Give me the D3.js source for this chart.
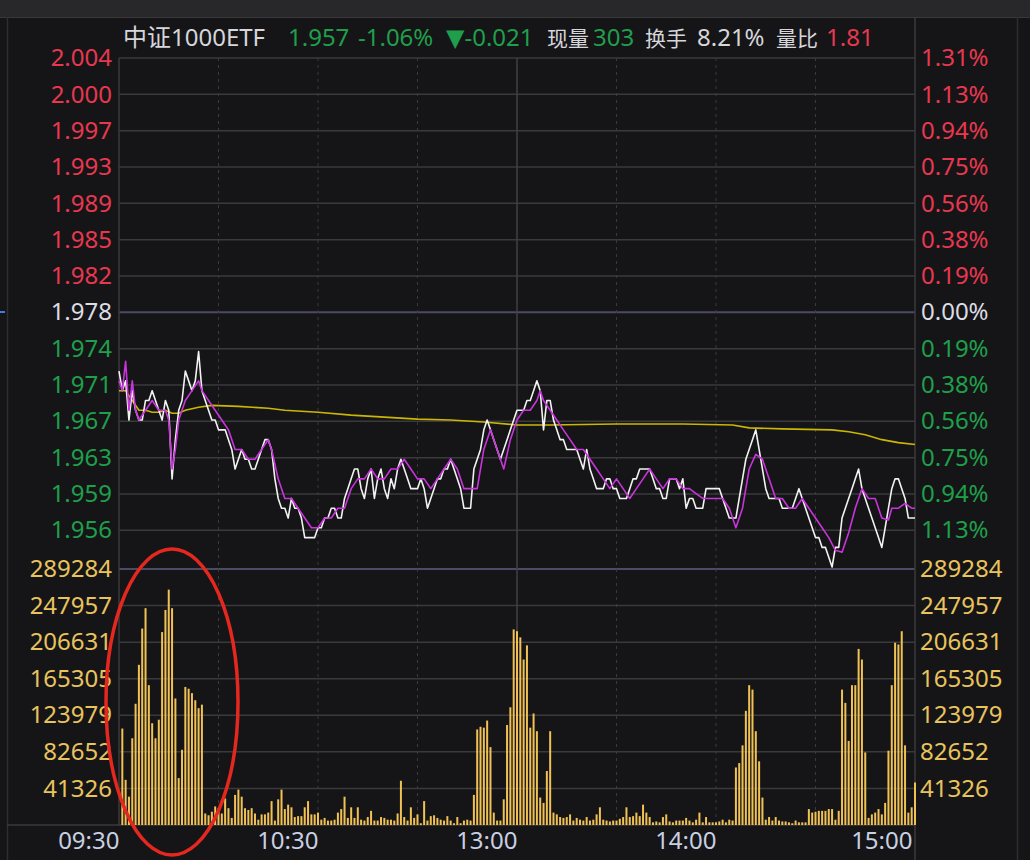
<!DOCTYPE html>
<html>
<head>
<meta charset="utf-8">
<script src="https://cdn.jsdelivr.net/npm/d3@7"></script>
<style>
  body { margin: 0; background: #151517; }
  svg { display: block; }
  text { font-family: "Noto Sans", "DejaVu Sans", "Noto Sans CJK SC", sans-serif; font-size: 24px; }
</style>
</head>
<body>
<svg width="1030" height="860"></svg>
<script>
// ---- data ----
var preClose = 1.978;
var volMax = 289284;

var headerTexts = ['中证1000ETF', '1.957', '-1.06%', '▼-0.021', '现量', '303', '换手', '8.21%', '量比', '1.81'];
var headerKinds = ['name', 'down', 'down', 'down', 'name', 'down', 'name', 'name', 'name', 'up'];

// top to bottom
var priceLabels = ['2.004', '2.000', '1.997', '1.993', '1.989', '1.985', '1.982', '1.978',
  '1.974', '1.971', '1.967', '1.963', '1.959', '1.956'];
var pctLabels = ['1.31%', '1.13%', '0.94%', '0.75%', '0.56%', '0.38%', '0.19%', '0.00%',
  '0.19%', '0.38%', '0.56%', '0.75%', '0.94%', '1.13%'];
// bottom to top
var volLabels = ['41326', '82652', '123979', '165305', '206631', '247957', '289284'];

var timeLabels = ['09:30', '10:30', '13:00', '14:00', '15:00'];
var timeTicks = [0, 60, 120, 180, 240];

// last price, one value per minute (0 = 09:30, 240 = 15:00)
var price = [
  1.972, 1.970, 1.971, 1.967, 1.970, 1.968, 1.967, 1.967, 1.969, 1.969,
  1.970, 1.969, 1.968, 1.967, 1.969, 1.968, 1.961, 1.965, 1.968, 1.969,
  1.972, 1.971, 1.970, 1.971, 1.974, 1.970, 1.969, 1.968, 1.967, 1.967,
  1.966, 1.966, 1.966, 1.965, 1.964, 1.962, 1.963, 1.964, 1.963, 1.963,
  1.962, 1.962, 1.963, 1.964, 1.965, 1.965, 1.964, 1.961, 1.959, 1.958,
  1.958, 1.957, 1.959, 1.958, 1.958, 1.957, 1.955, 1.955, 1.955, 1.955,
  1.956, 1.956, 1.957, 1.957, 1.958, 1.958, 1.957, 1.957, 1.959, 1.960,
  1.961, 1.962, 1.962, 1.960, 1.959, 1.961, 1.962, 1.959, 1.961, 1.962,
  1.960, 1.959, 1.961, 1.960, 1.962, 1.963, 1.962, 1.961, 1.960, 1.960,
  1.960, 1.961, 1.960, 1.958, 1.959, 1.960, 1.961, 1.961, 1.962, 1.962,
  1.963, 1.962, 1.961, 1.960, 1.958, 1.958, 1.958, 1.962, 1.963, 1.964,
  1.966, 1.967, 1.966, 1.965, 1.964, 1.963, 1.964, 1.965, 1.966, 1.967,
  1.968, 1.968, 1.968, 1.969, 1.969, 1.970, 1.971, 1.970, 1.966, 1.969,
  1.969, 1.967, 1.966, 1.965, 1.965, 1.964, 1.964, 1.964, 1.964, 1.963,
  1.962, 1.964, 1.962, 1.961, 1.960, 1.960, 1.960, 1.961, 1.961, 1.960,
  1.960, 1.959, 1.959, 1.959, 1.960, 1.961, 1.961, 1.962, 1.962, 1.962,
  1.962, 1.961, 1.960, 1.960, 1.959, 1.959, 1.961, 1.961, 1.961, 1.960,
  1.961, 1.958, 1.959, 1.959, 1.958, 1.958, 1.958, 1.960, 1.960, 1.960,
  1.960, 1.960, 1.959, 1.958, 1.957, 1.957, 1.957, 1.959, 1.961, 1.963,
  1.964, 1.965, 1.966, 1.964, 1.962, 1.960, 1.959, 1.959, 1.959, 1.959,
  1.958, 1.958, 1.958, 1.958, 1.959, 1.960, 1.959, 1.958, 1.957, 1.956,
  1.955, 1.955, 1.954, 1.954, 1.953, 1.952, 1.954, 1.954, 1.957, 1.958,
  1.959, 1.960, 1.961, 1.962, 1.960, 1.959, 1.958, 1.957, 1.956, 1.955,
  1.954, 1.956, 1.958, 1.960, 1.961, 1.961, 1.960, 1.959, 1.957, 1.957,
  1.957
];

// magenta line, [minute, value]
var iopv = [
  [0, 1.971], [1, 1.970], [2, 1.973], [3, 1.968], [4, 1.971], [5, 1.968], [6, 1.967],
  [8, 1.968], [10, 1.969], [12, 1.968], [14, 1.968], [15, 1.967], [16, 1.962], [17, 1.964],
  [18, 1.967], [20, 1.969], [22, 1.970], [24, 1.971], [25, 1.970], [27, 1.969], [29, 1.968],
  [31, 1.967], [33, 1.966], [35, 1.964], [37, 1.964], [39, 1.963], [41, 1.963], [43, 1.964],
  [45, 1.965], [46, 1.964], [48, 1.961], [50, 1.959], [52, 1.959], [54, 1.958], [56, 1.957],
  [58, 1.956], [60, 1.956], [62, 1.957], [64, 1.957], [66, 1.958], [68, 1.958], [70, 1.960],
  [72, 1.961], [74, 1.961], [76, 1.962], [78, 1.961], [80, 1.961], [82, 1.962], [84, 1.962],
  [86, 1.963], [88, 1.962], [90, 1.961], [92, 1.961], [94, 1.960], [96, 1.961], [98, 1.962],
  [100, 1.963], [102, 1.962], [104, 1.960], [106, 1.960], [108, 1.960], [110, 1.964],
  [112, 1.966], [114, 1.964], [116, 1.962], [118, 1.965], [120, 1.967], [122, 1.968],
  [124, 1.968], [126, 1.969], [127, 1.970], [128, 1.969], [130, 1.968], [132, 1.967],
  [134, 1.966], [136, 1.965], [138, 1.964], [140, 1.964], [142, 1.963], [144, 1.962],
  [146, 1.961], [148, 1.960], [150, 1.961], [152, 1.960], [154, 1.959], [156, 1.960],
  [158, 1.961], [160, 1.962], [162, 1.961], [164, 1.960], [166, 1.961], [168, 1.961],
  [170, 1.960], [172, 1.960], [174, 1.9595], [176, 1.959], [178, 1.959], [180, 1.959],
  [182, 1.959], [184, 1.958], [186, 1.956], [188, 1.958], [190, 1.962], [192, 1.9635],
  [194, 1.963], [196, 1.961], [198, 1.959], [200, 1.959], [202, 1.958], [204, 1.958],
  [206, 1.959], [208, 1.958], [210, 1.957], [212, 1.956], [214, 1.955], [216, 1.9537],
  [218, 1.9535], [220, 1.9555], [222, 1.958], [224, 1.960], [226, 1.959], [228, 1.959],
  [230, 1.957], [232, 1.9568], [233, 1.958], [235, 1.958], [237, 1.9585], [239, 1.958],
  [240, 1.958]
];

// yellow average price, [minute, value]
var avgPrice = [
  [0, 1.970], [2, 1.970], [4, 1.969], [6, 1.968], [8, 1.968], [10, 1.9678], [12, 1.9678],
  [14, 1.968], [16, 1.9677], [18, 1.9677], [20, 1.968], [24, 1.9683], [28, 1.9685],
  [36, 1.9684], [45, 1.9682], [50, 1.968], [60, 1.9678], [70, 1.9675], [80, 1.9673],
  [90, 1.9671], [100, 1.967], [110, 1.9668], [120, 1.9665], [130, 1.9665], [150, 1.9666],
  [170, 1.9666], [185, 1.9665], [190, 1.9662], [200, 1.9661], [215, 1.966], [220, 1.9658],
  [225, 1.9655], [230, 1.965], [235, 1.9647], [240, 1.9645]
];

// volume per minute, minutes 1..240
var volume = [
  109000, 51000, 32000, 98000, 137000, 181000, 222000, 245000, 158000, 115000,
  98000, 119000, 218000, 243000, 266000, 245000, 143000, 53000, 85000, 156000,
  154000, 149000, 141000, 132000, 136000, 13000, 11000, 15000, 21000, 19000,
  13000, 30000, 19000, 8000, 34000, 40000, 32000, 19000, 17000, 19000,
  13000, 6000, 12000, 12000, 14000, 27000, 5000, 29000, 40000, 18000,
  23000, 20000, 9000, 10000, 10000, 20000, 27000, 12000, 12000, 14000,
  6000, 8000, 5000, 5000, 6000, 14000, 18000, 32000, 8000, 20000,
  8000, 20000, 6000, 5000, 9000, 16000, 5000, 5000, 9000, 8000,
  6000, 6000, 5000, 13000, 50000, 9000, 5000, 20000, 8000, 12000,
  2000, 27000, 5000, 10000, 11000, 8000, 6000, 5000, 10000, 5000,
  2000, 9000, 2000, 5000, 6000, 5000, 34000, 108000, 111000, 110000,
  118000, 88000, 14000, 5000, 5000, 29000, 113000, 133000, 221000, 219000,
  212000, 187000, 203000, 110000, 126000, 106000, 31000, 25000, 61000, 106000,
  14000, 12000, 9000, 8000, 9000, 12000, 5000, 8000, 6000, 5000,
  9000, 5000, 6000, 12000, 20000, 6000, 5000, 4000, 5000, 5000,
  7000, 9000, 20000, 9000, 10000, 14000, 10000, 23000, 14000, 9000,
  3000, 4000, 3000, 9000, 12000, 4000, 3000, 5000, 5000, 5000,
  8000, 5000, 3000, 6000, 14000, 3000, 9000, 3000, 3000, 3000,
  4000, 6000, 3000, 6000, 5000, 65000, 70000, 90000, 129000, 158000,
  153000, 106000, 72000, 31000, 6000, 9000, 5000, 9000, 5000, 4000,
  4000, 3000, 2000, 5000, 3000, 3000, 3000, 18000, 14000, 15000,
  16000, 16000, 16000, 18000, 18000, 6000, 16000, 153000, 138000, 95000,
  158000, 158000, 199000, 187000, 82000, 8000, 12000, 14000, 18000, 12000,
  25000, 84000, 158000, 206000, 204000, 219000, 90000, 14000, 20000, 48000
];

// ---- layout ----
var left = 119, right = 915;
var priceTop = 58, rowH = 36.33;
var volTop = 569, volBottom = 825;
var red = '#e8384f', green = '#1f9f4b', white = '#dcdce4', gold = '#e8c35e';

var step = preClose * 0.001875;
var rows = d3.range(7, -7, -1); // 7 .. -6, top to bottom

var x = d3.scaleLinear().domain([0, 240]).range([left, right]);
var y = d3.scaleLinear()
  .domain([preClose - 6 * step, preClose + 7 * step])
  .range([priceTop + 13 * rowH, priceTop]);
var yVol = d3.scaleLinear().domain([0, volMax]).range([volBottom, volTop]);

var svg = d3.select('svg');

svg.append('rect').attr('width', 1030).attr('height', 860).attr('fill', '#151517');
svg.append('rect').attr('width', 1030).attr('height', 17).attr('fill', '#28282a');
svg.append('line').attr('x1', 0).attr('x2', 1030).attr('y1', 17.5).attr('y2', 17.5)
  .attr('stroke', '#38383a').attr('stroke-width', 1);
[7.5, 1017.5].forEach(function(fx) {
  svg.append('line').attr('x1', fx).attr('x2', fx).attr('y1', 17).attr('y2', 860)
    .attr('stroke', '#2e2e31').attr('stroke-width', 1.5);
});
svg.append('line').attr('x1', 0).attr('x2', 5).attr('y1', 312).attr('y2', 312)
  .attr('stroke', '#3d7ee0').attr('stroke-width', 2);

// grid
var grid = svg.append('g');
grid.selectAll('line.row')
  .data(rows)
  .enter()
  .append('line')
  .attr('x1', left).attr('x2', right)
  .attr('y1', function(k) { return y(preClose + k * step); })
  .attr('y2', function(k) { return y(preClose + k * step); })
  .attr('stroke', function(k) { return k === 0 ? '#4b4b66' : '#3a3a3d'; })
  .attr('stroke-width', function(k) { return k === 0 ? 2 : 1.5; });

grid.selectAll('line.vrow')
  .data(d3.range(1, 8))
  .enter()
  .append('line')
  .attr('x1', left).attr('x2', right)
  .attr('y1', function(j) { return yVol(j * volMax / 7); })
  .attr('y2', function(j) { return yVol(j * volMax / 7); })
  .attr('stroke', function(j) { return j === 7 ? '#4b4b66' : '#3a3a3d'; })
  .attr('stroke-width', function(j) { return j === 7 ? 2 : 1.5; });

grid.selectAll('line.dash')
  .data([30, 60, 90, 150, 180, 210])
  .enter()
  .append('line')
  .attr('x1', function(m) { return x(m); })
  .attr('x2', function(m) { return x(m); })
  .attr('y1', priceTop).attr('y2', volBottom)
  .attr('stroke', '#3a3a3d').attr('stroke-width', 1)
  .attr('stroke-dasharray', '3,4');

grid.append('line').attr('x1', x(120)).attr('x2', x(120)).attr('y1', priceTop).attr('y2', volBottom)
  .attr('stroke', '#404044').attr('stroke-width', 1.5);
grid.append('line').attr('x1', left).attr('x2', left).attr('y1', priceTop).attr('y2', volBottom)
  .attr('stroke', '#3a3a3d').attr('stroke-width', 1.5);
grid.append('line').attr('x1', right).attr('x2', right).attr('y1', 17).attr('y2', 860)
  .attr('stroke', '#3a3a3d').attr('stroke-width', 1.5);
grid.append('line').attr('x1', 7).attr('x2', right).attr('y1', volBottom).attr('y2', volBottom)
  .attr('stroke', '#3a3a3d').attr('stroke-width', 1.5);

// volume bars
svg.append('g')
  .selectAll('rect')
  .data(volume)
  .enter()
  .append('rect')
  .attr('x', function(d, i) { return x(i + 1) - 1; })
  .attr('width', 2)
  .attr('y', function(d) { return yVol(d); })
  .attr('height', function(d) { return volBottom - yVol(d); })
  .attr('fill', '#f0c154');

// lines
var pairLine = d3.line()
  .x(function(d) { return x(d[0]); })
  .y(function(d) { return y(d[1]); });
var priceLine = d3.line()
  .x(function(d, i) { return x(i); })
  .y(function(d) { return y(d); });

svg.append('path').datum(avgPrice).attr('d', pairLine)
  .attr('fill', 'none').attr('stroke', '#cbb604').attr('stroke-width', 1.6);
svg.append('path').datum(price).attr('d', priceLine)
  .attr('fill', 'none').attr('stroke', '#f2f2f2').attr('stroke-width', 1.6)
  .attr('stroke-linejoin', 'round');
svg.append('path').datum(iopv).attr('d', pairLine)
  .attr('fill', 'none').attr('stroke', '#c934dc').attr('stroke-width', 1.6)
  .attr('stroke-linejoin', 'round');

// axes
function rowColor(k) { return k > 0 ? red : (k < 0 ? green : white); }
var rowPrices = rows.map(function(k) { return preClose + k * step; });

function styleAxis(g) {
  g.select('.domain').remove();
  g.selectAll('line').remove();
  g.attr('font-family', null).attr('font-size', null);
}

svg.append('g')
  .attr('transform', 'translate(' + left + ',0)')
  .call(d3.axisLeft(y).tickValues(rowPrices).tickSize(0).tickPadding(7)
    .tickFormat(function(d, i) { return priceLabels[i]; }))
  .call(styleAxis)
  .selectAll('text')
  .attr('fill', function(d, i) { return rowColor(rows[i]); });

svg.append('g')
  .attr('transform', 'translate(' + right + ',0)')
  .call(d3.axisRight(y).tickValues(rowPrices).tickSize(0).tickPadding(6)
    .tickFormat(function(d, i) { return pctLabels[i]; }))
  .call(styleAxis)
  .selectAll('text')
  .attr('fill', function(d, i) { return rowColor(rows[i]); });

var volTicks = d3.range(1, 8).map(function(j) { return j * volMax / 7; });
svg.append('g')
  .attr('transform', 'translate(' + left + ',0)')
  .call(d3.axisLeft(yVol).tickValues(volTicks).tickSize(0).tickPadding(7)
    .tickFormat(function(d, i) { return volLabels[i]; }))
  .call(styleAxis)
  .selectAll('text').attr('fill', gold);

svg.append('g')
  .attr('transform', 'translate(' + right + ',0)')
  .call(d3.axisRight(yVol).tickValues(volTicks).tickSize(0).tickPadding(5)
    .tickFormat(function(d, i) { return volLabels[i]; }))
  .call(styleAxis)
  .selectAll('text').attr('fill', gold);

svg.append('g')
  .attr('transform', 'translate(0,' + volBottom + ')')
  .call(d3.axisBottom(x).tickValues(timeTicks).tickSize(0).tickPadding(7)
    .tickFormat(function(d, i) { return timeLabels[i]; }))
  .call(styleAxis)
  .selectAll('text')
  .attr('fill', '#c8d0e2')
  .attr('text-anchor', 'end')
  .attr('dx', function(d) { return d === 240 ? -3 : 0; });

// header
var headerX = [123, 288, 358, 446, 547, 593, 645, 697, 776, 826];
var kindColor = { name: '#d6d6dc', down: green, up: red };
svg.append('g')
  .selectAll('text')
  .data(headerTexts)
  .enter()
  .append('text')
  .attr('x', function(d, i) { return headerX[i]; })
  .attr('y', 46)
  .attr('fill', function(d, i) { return kindColor[headerKinds[i]]; })
  .style('font-size', function(d) { return /^[\u4e00-\u9fff]+$/.test(d) ? '21px' : null; })
  .text(function(d) { return d; });

// red annotation ellipse
svg.append('ellipse')
  .attr('cx', 172).attr('cy', 702).attr('rx', 66).attr('ry', 153)
  .attr('fill', 'none').attr('stroke', '#e5281f').attr('stroke-width', 3.5);
</script>
</body>
</html>
